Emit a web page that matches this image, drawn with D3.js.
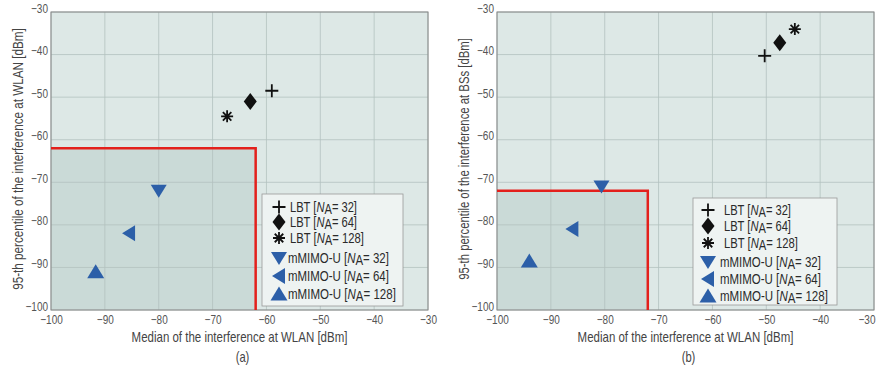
<!DOCTYPE html>
<html><head><meta charset="utf-8">
<script src="https://cdn.jsdelivr.net/npm/d3@7"></script>
<style>
body{margin:0;background:#fff;}
text{font-family:"Liberation Sans",Arial,sans-serif;}
</style></head>
<body><svg id="c" width="880" height="369"></svg>
<script>
const ticks = [-100,-90,-80,-70,-60,-50,-40,-30];
const seriesNames = ["LBT","LBT","LBT","mMIMO-U","mMIMO-U","mMIMO-U"];
const seriesNA = [32,64,128,32,64,128];
const seriesShapes = ["plus","diamond","asterisk","down","left","up"];
// panel (a)
const aX = [-59,-63,-67.3,-80,-85.5,-91.7];
const aY = [-48.5,-51,-54.5,-72,-82,-91];
const aThreshold = -62;
// panel (b)
const bX = [-50.3,-47.5,-44.7,-80.6,-86,-94];
const bY = [-40.3,-37.2,-34,-71,-81,-88.5];
const bThreshold = -72;

const svg = d3.select("#c");
const BLACK="#111", BLUE="#2c5fa8";
const K = 0.8;

function squeezed(g, x, y, rot, target, build){
  const t = g.append("text").attr("x",0).attr("y",0);
  build(t);
  const w = t.node().getComputedTextLength();
  const k = target ? target / w : K;
  t.attr("transform",`translate(${x},${y})${rot?` rotate(${rot})`:""} scale(${k},1)`);
  return t;
}

function marker(g, shape, cx, cy){
  if(shape==="plus"){
    g.append("path").attr("d",`M${cx-6.5},${cy}H${cx+6.5}M${cx},${cy-6.5}V${cy+6.5}`)
     .attr("stroke",BLACK).attr("stroke-width",1.8).attr("fill","none");
  } else if(shape==="asterisk"){
    let d="";
    for(let k=0;k<4;k++){const a=k*Math.PI/4;const dx=6*Math.cos(a),dy=6*Math.sin(a);d+=`M${cx-dx},${cy-dy}L${cx+dx},${cy+dy}`;}
    g.append("path").attr("d",d).attr("stroke",BLACK).attr("stroke-width",1.8).attr("fill","none");
  } else if(shape==="diamond"){
    g.append("path").attr("d",`M${cx},${cy-8.5}L${cx+6.5},${cy}L${cx},${cy+8.5}L${cx-6.5},${cy}Z`).attr("fill",BLACK);
  } else if(shape==="down"){
    g.append("path").attr("d",`M${cx-8},${cy-6}L${cx+8},${cy-6}L${cx},${cy+7}Z`).attr("fill",BLUE);
  } else if(shape==="left"){
    g.append("path").attr("d",`M${cx+6},${cy-8}L${cx+6},${cy+8}L${cx-7},${cy}Z`).attr("fill",BLUE);
  } else if(shape==="up"){
    g.append("path").attr("d",`M${cx-8.5},${cy+6.5}L${cx+8.5},${cy+6.5}L${cx},${cy-7.5}Z`).attr("fill",BLUE);
  }
}

function panel(opt){
  const x = d3.scaleLinear().domain([-100,-30]).range([opt.x0,opt.x1]);
  const y = d3.scaleLinear().domain([-100,-30]).range([310,12]);
  const g = svg.append("g");
  g.append("rect").attr("x",x(-100)).attr("y",y(-30)).attr("width",x(-30)-x(-100)).attr("height",y(-100)-y(-30)).attr("fill","#dde8e6");
  g.append("rect").attr("x",x(-100)).attr("y",y(opt.thr)).attr("width",x(opt.thr)-x(-100)).attr("height",y(-100)-y(opt.thr)).attr("fill","#cadad7");
  g.append("g").selectAll("line").data(ticks).join("line")
   .attr("x1",d=>x(d)).attr("x2",d=>x(d)).attr("y1",y(-30)).attr("y2",y(-100)).attr("stroke","#b3c1bf").attr("stroke-width",0.8);
  g.append("g").selectAll("line").data(ticks).join("line")
   .attr("y1",d=>y(d)).attr("y2",d=>y(d)).attr("x1",x(-100)).attr("x2",x(-30)).attr("stroke","#b3c1bf").attr("stroke-width",0.8);
  const ax = g.append("g").attr("transform",`translate(0,${y(-100)})`).call(d3.axisBottom(x).tickValues(ticks).tickSize(0).tickPadding(5).tickFormat(d3.format("d")));
  const ay = g.append("g").attr("transform",`translate(${x(-100)-2},-4)`).call(d3.axisLeft(y).tickValues(ticks).tickSize(0).tickPadding(1).tickFormat(d3.format("d")));
  [ax,ay].forEach(a=>{a.select(".domain").remove();a.attr("font-family",null);
    a.selectAll("text").attr("fill","#555").attr("font-size",12.5).style("font-family",'"Liberation Sans",Arial,sans-serif')
      .each(function(){const w=this.getComputedTextLength();d3.select(this).attr("textLength",w*K).attr("lengthAdjust","spacingAndGlyphs");});
  });
  if(opt.clampLast){
    ax.selectAll(".tick").filter(d=>d===-30).select("text").attr("text-anchor","end").attr("x",880-x(-30)-5);
  }
  g.append("rect").attr("x",x(-100)).attr("y",y(-30)).attr("width",x(-30)-x(-100)).attr("height",y(-100)-y(-30)).attr("fill","none").attr("stroke","#888").attr("stroke-width",1);
  g.append("path").attr("d",`M${x(-100)},${y(opt.thr)}H${x(opt.thr)}V${y(-100)}`).attr("fill","none").attr("stroke","#e3201c").attr("stroke-width",2.5);
  opt.xs.forEach((v,i)=>marker(g,seriesShapes[i],x(v),y(opt.ys[i])));
  const L=opt.leg;
  g.append("rect").attr("x",L.x).attr("y",L.y).attr("width",L.w).attr("height",L.h).attr("fill","#eef3f2").attr("stroke","#999").attr("stroke-width",0.8);
  seriesNames.forEach((nm,i)=>{
    const yy=L.rows[i];
    marker(g,seriesShapes[i],L.mx,yy);
    squeezed(g, i<3?L.tx1:L.tx2, yy+5, 0, L.tw[i], t=>{
      t.attr("font-size",14).attr("fill","#2a2a2a");
      t.append("tspan").text(nm+" [");
      t.append("tspan").attr("font-style","italic").text("N");
      t.append("tspan").attr("dy",2).text("A");
      t.append("tspan").attr("dy",-2).text("= "+seriesNA[i]+"]");
    });
  });
  const cx=(x(-100)+x(-30))/2;
  squeezed(g, cx, 342, 0, 216, t=>t.attr("text-anchor","middle").attr("font-size",14).attr("fill","#444").text("Median of the interference at WLAN [dBm]"));
  squeezed(g, cx+3, 362, 0, null, t=>t.attr("text-anchor","middle").attr("font-size",14).attr("fill","#444").text(opt.tag));
  squeezed(g, opt.ylx, 159, -90, opt.ylw, t=>t.attr("text-anchor","middle").attr("font-size",14).attr("fill","#444").text(opt.ylab));
}

panel({x0:51,x1:428,thr:aThreshold,xs:aX,ys:aY,tag:"(a)",ylx:23,ylw:262,ylab:"95-th percentile of the interference at WLAN [dBm]",
  leg:{x:262,y:194,w:141,h:112,mx:279,tx1:290,tx2:288,rows:[207,222,238,258,276,294],tw:[67,67,74,101,101,108]}});
panel({x0:497,x1:874,thr:bThreshold,xs:bX,ys:bY,tag:"(b)",ylx:469,ylw:242,clampLast:true,ylab:"95-th percentile of the interference at BSs [dBm]",
  leg:{x:693,y:198,w:144,h:107,mx:708,tx1:724,tx2:720,rows:[210,226,243,262,279,296],tw:[67,67,74,101,101,108]}});
</script></body></html>
